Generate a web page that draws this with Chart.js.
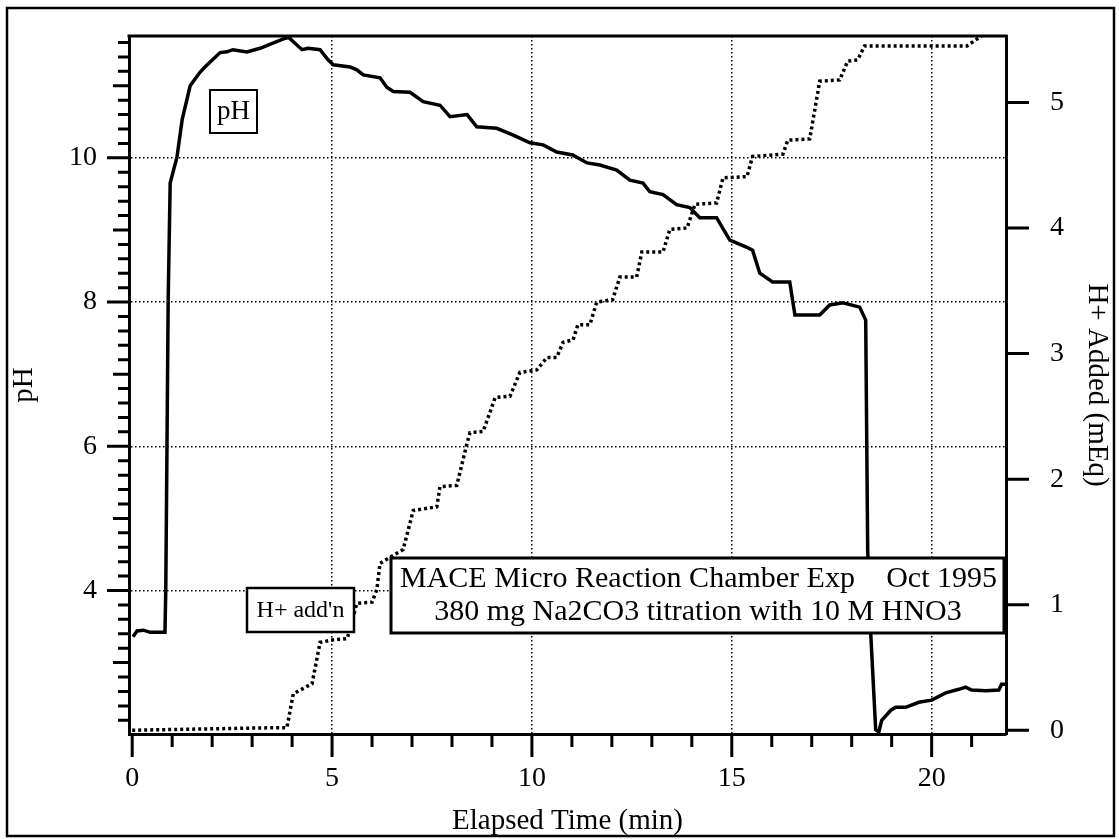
<!DOCTYPE html>
<html>
<head>
<meta charset="utf-8">
<title>MACE titration</title>
<script src="https://cdn.jsdelivr.net/npm/chart.js"></script>
<style>
  body { margin: 0; background: #fff; }
  canvas { display: block; }
</style>
</head>
<body>
<canvas id="chart" width="1119" height="839"></canvas>
<script>
// pH trace (left axis)
const phTime = [0.02, 0.12, 0.28, 0.45, 0.82, 0.84, 0.87, 0.9, 0.95, 1.12, 1.25, 1.45, 1.7, 1.82, 1.95,
  2.2, 2.37, 2.52, 2.87, 3.2, 3.52, 3.83, 3.92, 4.03, 4.25, 4.4, 4.7, 4.9, 5.03, 5.45, 5.62, 5.78,
  6.2, 6.37, 6.53, 6.95, 7.28, 7.7, 7.95, 8.38, 8.62, 9.12, 9.52, 9.95, 10.28, 10.62, 11.02, 11.38,
  11.7, 12.12, 12.45, 12.78, 12.95, 13.28, 13.62, 13.95, 14.2, 14.62, 14.95, 15.38, 15.52, 15.7,
  16.02, 16.45, 16.52, 16.58, 17.2, 17.45, 17.78, 18.2, 18.35, 18.4, 18.48, 18.6, 18.68, 18.75,
  18.98, 19.1, 19.35, 19.68, 20.0, 20.35, 20.68, 20.85, 21.0, 21.35, 21.68, 21.75, 21.86];
const phValue = [3.36, 3.44, 3.45, 3.42, 3.42, 4.01, 5.99, 8.03, 9.65, 10.01, 10.53, 11.0, 11.19, 11.26, 11.33,
  11.46, 11.47, 11.5, 11.47, 11.52, 11.59, 11.66, 11.67, 11.61, 11.5, 11.52, 11.5, 11.36, 11.29, 11.26, 11.22, 11.15,
  11.11, 10.98, 10.92, 10.91, 10.78, 10.73, 10.57, 10.6, 10.43, 10.41, 10.32, 10.21, 10.18, 10.08, 10.04, 9.93,
  9.9, 9.83, 9.69, 9.65, 9.53, 9.49, 9.35, 9.31, 9.17, 9.17, 8.86, 8.76, 8.72, 8.4,
  8.28, 8.28, 8.03, 7.82, 7.82, 7.96, 7.99, 7.93, 7.75, 4.56, 3.36, 2.07, 2.04, 2.2,
  2.34, 2.38, 2.38, 2.45, 2.48, 2.58, 2.63, 2.66, 2.62, 2.61, 2.62, 2.7, 2.7];

// H+ added (right axis, mEq)
const hTime = [0, 3.53, 3.87, 4.03, 4.2, 4.5, 4.7, 5.03, 5.38, 5.62, 6.0, 6.12, 6.2, 6.78, 7.03, 7.62,
  7.7, 8.12, 8.38, 8.45, 8.78, 9.08, 9.45, 9.7, 10.12, 10.38, 10.62, 10.78, 11.03, 11.15, 11.45,
  11.62, 12.02, 12.2, 12.62, 12.75, 13.28, 13.45, 13.88, 14.08, 14.62, 14.78, 15.38, 15.52, 16.28,
  16.4, 16.95, 17.2, 17.7, 17.9, 18.15, 18.32, 20.88, 21.2, 21.38, 21.86];
const hValue = [0, 0.02, 0.02, 0.29, 0.32, 0.37, 0.7, 0.72, 0.73, 1.01, 1.02, 1.12, 1.33, 1.44, 1.75, 1.78,
  1.94, 1.95, 2.29, 2.37, 2.38, 2.65, 2.66, 2.85, 2.87, 2.97, 2.97, 3.09, 3.11, 3.23, 3.23,
  3.41, 3.43, 3.61, 3.61, 3.81, 3.81, 3.99, 4.0, 4.19, 4.2, 4.4, 4.41, 4.57, 4.59,
  4.7, 4.71, 5.17, 5.18, 5.33, 5.34, 5.45, 5.45, 5.52, 5.56, 5.58];

const xRange = [-0.08, 21.86];
const phRange = [2.01, 11.69];
const hRange = [-0.03, 5.53];

const font = "'Liberation Serif', 'Times New Roman', serif";
const isWhole = v => Math.abs(v - Math.round(v)) < 1e-6;
const clear = 'rgba(0,0,0,0)';

const extras = {
  id: 'extras',
  beforeDraw(chart) {
    const c = chart.ctx;
    c.save();
    c.fillStyle = '#fff';
    c.fillRect(0, 0, chart.width, chart.height);
    c.restore();
  },
  afterDatasetsDraw(chart) {
    const c = chart.ctx;
    c.save();
    c.fillStyle = '#fff';
    c.strokeStyle = '#000';
    // label boxes
    c.lineWidth = 2;
    c.fillRect(210, 90, 47, 43); c.strokeRect(210, 90, 47, 43);
    c.lineWidth = 2.5;
    c.fillRect(247, 588, 107, 44); c.strokeRect(247, 588, 107, 44);
    c.lineWidth = 3;
    c.fillRect(391, 558, 613, 75); c.strokeRect(391, 558, 613, 75);
    c.fillStyle = '#000';
    c.textBaseline = 'middle';
    c.textAlign = 'center';
    c.font = '27px ' + font;
    c.fillText('pH', 233.5, 112);
    c.font = '24px ' + font;
    c.fillText("H+ add'n", 300.5, 611);
    c.textBaseline = 'alphabetic';
    c.font = '30px ' + font;
    c.textAlign = 'left';
    c.fillText('MACE Micro Reaction Chamber Exp', 400, 587);
    c.textAlign = 'right';
    c.fillText('Oct 1995', 997, 587);
    c.textAlign = 'center';
    c.fillText('380 mg Na2CO3 titration with 10 M HNO3', 698, 620);
    c.restore();
  },
  afterDraw(chart) {
    const c = chart.ctx;
    const a = chart.chartArea;
    const {x, y, y2} = chart.scales;
    c.save();
    c.strokeStyle = '#000';
    c.lineWidth = 3;
    c.beginPath();
    // top frame of plot
    c.moveTo(a.left - 1.5, a.top);
    c.lineTo(a.right + 1.5, a.top);
    // left ticks
    y.ticks.forEach(t => {
      const m = Math.round(t.value * 5);
      if (Math.abs(t.value * 5 - m) > 1e-6) return;
      const len = m % 10 === 0 ? 22 : (m % 5 === 0 ? 16 : 11);
      const py = y.getPixelForValue(t.value);
      c.moveTo(a.left, py);
      c.lineTo(a.left - len, py);
    });
    // bottom ticks
    x.ticks.forEach(t => {
      if (!isWhole(t.value)) return;
      const len = Math.round(t.value) % 5 === 0 ? 23 : 13;
      const px = x.getPixelForValue(t.value);
      c.moveTo(px, a.bottom);
      c.lineTo(px, a.bottom + len);
    });
    // right ticks
    y2.ticks.forEach(t => {
      if (!isWhole(t.value)) return;
      const py = y2.getPixelForValue(t.value);
      c.moveTo(a.right, py);
      c.lineTo(a.right + 23, py);
    });
    c.stroke();
    // outer frame
    c.lineWidth = 2.5;
    c.strokeRect(7, 8, 1107, 828);
    c.restore();
  }
};

new Chart(document.getElementById('chart'), {
  type: 'line',
  data: {
    datasets: [{
      label: 'pH',
      data: phTime.map((t, i) => ({x: t, y: phValue[i]})),
      yAxisID: 'y',
      borderColor: '#000',
      borderWidth: 3.5,
      pointRadius: 0,
      tension: 0
    }, {
      label: "H+ add'n",
      data: hTime.map((t, i) => ({x: t, y: hValue[i]})),
      yAxisID: 'y2',
      borderColor: '#000',
      borderWidth: 3.5,
      borderDash: [3, 3],
      pointRadius: 0,
      tension: 0
    }]
  },
  options: {
    responsive: false,
    animation: false,
    devicePixelRatio: 1,
    layout: { padding: { top: 36, left: 0, right: 0, bottom: 0 } },
    plugins: {
      legend: { display: false },
      tooltip: { enabled: false }
    },
    scales: {
      x: {
        type: 'linear',
        min: xRange[0],
        max: xRange[1],
        afterFit(s) { s.height = 105; },
        ticks: {
          stepSize: 1,
          includeBounds: false,
          autoSkip: false,
          maxRotation: 0,
          padding: 0,
          color: '#000',
          font: { family: font, size: 28 },
          callback: v => (isWhole(v) && Math.round(v) % 5 === 0) ? String(Math.round(v)) : ''
        },
        grid: {
          drawTicks: true,
          tickLength: 28,
          tickColor: clear,
          lineWidth: 1.5,
          color: ctx => (ctx.tick && isWhole(ctx.tick.value) && Math.round(ctx.tick.value) % 5 === 0 && Math.round(ctx.tick.value) !== 0) ? '#000' : clear
        },
        border: { display: true, color: '#000', width: 3, dash: [1.5, 2.5] },
        title: {
          display: true,
          text: 'Elapsed Time (min)',
          color: '#000',
          font: { family: font, size: 29 },
          padding: { top: 5, bottom: 0 }
        }
      },
      y: {
        type: 'linear',
        position: 'left',
        min: phRange[0],
        max: phRange[1],
        afterFit(s) { s.width = 129; },
        ticks: {
          stepSize: 0.2,
          includeBounds: false,
          autoSkip: false,
          padding: 0,
          color: '#000',
          font: { family: font, size: 28 },
          callback: v => (isWhole(v) && Math.round(v) % 2 === 0) ? String(Math.round(v)) : ''
        },
        grid: {
          drawTicks: true,
          tickLength: 32,
          tickColor: clear,
          lineWidth: 1.5,
          color: ctx => (ctx.tick && isWhole(ctx.tick.value) && Math.round(ctx.tick.value) % 2 === 0) ? '#000' : clear
        },
        border: { display: true, color: '#000', width: 3, dash: [1.5, 2.5] },
        title: {
          display: true,
          text: 'pH',
          color: '#000',
          font: { family: font, size: 29 },
          padding: { top: 7, bottom: 0 }
        }
      },
      y2: {
        type: 'linear',
        position: 'right',
        min: hRange[0],
        max: hRange[1],
        afterFit(s) { s.width = 113; },
        ticks: {
          stepSize: 1,
          includeBounds: false,
          autoSkip: false,
          padding: 0,
          color: '#000',
          font: { family: font, size: 28 },
          callback: v => isWhole(v) ? String(Math.round(v)) : ''
        },
        grid: { drawTicks: true, tickLength: 44, tickColor: clear, drawOnChartArea: false },
        border: { display: true, color: '#000', width: 3 },
        title: {
          display: true,
          text: 'H+ Added (mEq)',
          color: '#000',
          font: { family: font, size: 29 },
          padding: { top: 5, bottom: 0 }
        }
      }
    }
  },
  plugins: [extras]
});
</script>
</body>
</html>
